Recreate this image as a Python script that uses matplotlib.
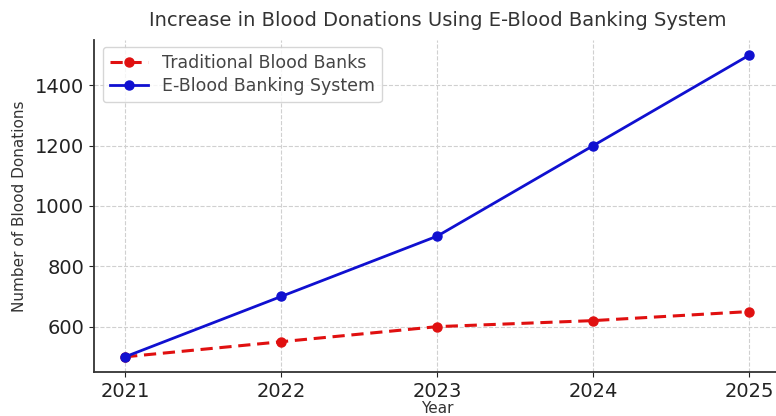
import matplotlib.pyplot as plt

years = [2021, 2022, 2023, 2024, 2025]
traditional = [500, 550, 600, 620, 650]
e_banking = [500, 700, 900, 1200, 1500]
yticks = [600, 800, 1000, 1200, 1400]

fig = plt.figure(figsize=(7.76, 4.16), dpi=100)
ax = fig.add_axes([0.121, 0.106, 0.885, 0.798])

ax.plot(years, traditional, color='#e01010', linestyle=(0, (4, 2.2)), marker='o',
        markersize=6.5, linewidth=2.2, label='Traditional Blood Banks')
ax.plot(years, e_banking, color='#1010d0', linestyle='-', marker='o',
        markersize=6.5, linewidth=2, label='E-Blood Banking System')

ax.set_xlim(2020.8, 2025.2)
ax.set_ylim(450, 1550)
ax.set_xticks(years)
ax.set_yticks(yticks)
ax.tick_params(labelsize=14, colors='#222222')
ax.grid(True, linestyle='--', color='#d0d0d0', linewidth=0.8)

for s in ['top', 'right']:
    ax.spines[s].set_visible(False)
for s in ['left', 'bottom']:
    ax.spines[s].set_linewidth(1.3)
    ax.spines[s].set_color('#333333')

ax.set_title('Increase in Blood Donations Using E-Blood Banking System',
             fontsize=14, color='#333333', pad=10)
ax.set_xlabel('Year', fontsize=11, color='#333333', labelpad=0)
ax.set_ylabel('Number of Blood Donations', fontsize=11, color='#333333', labelpad=6)
ax.legend(loc='upper left', fontsize=12.5, labelcolor='#444444',
          handlelength=2.2, borderpad=0.4, labelspacing=0.3,
          bbox_to_anchor=(0.0, 1.005))

fig.savefig('out.png', dpi=100)
